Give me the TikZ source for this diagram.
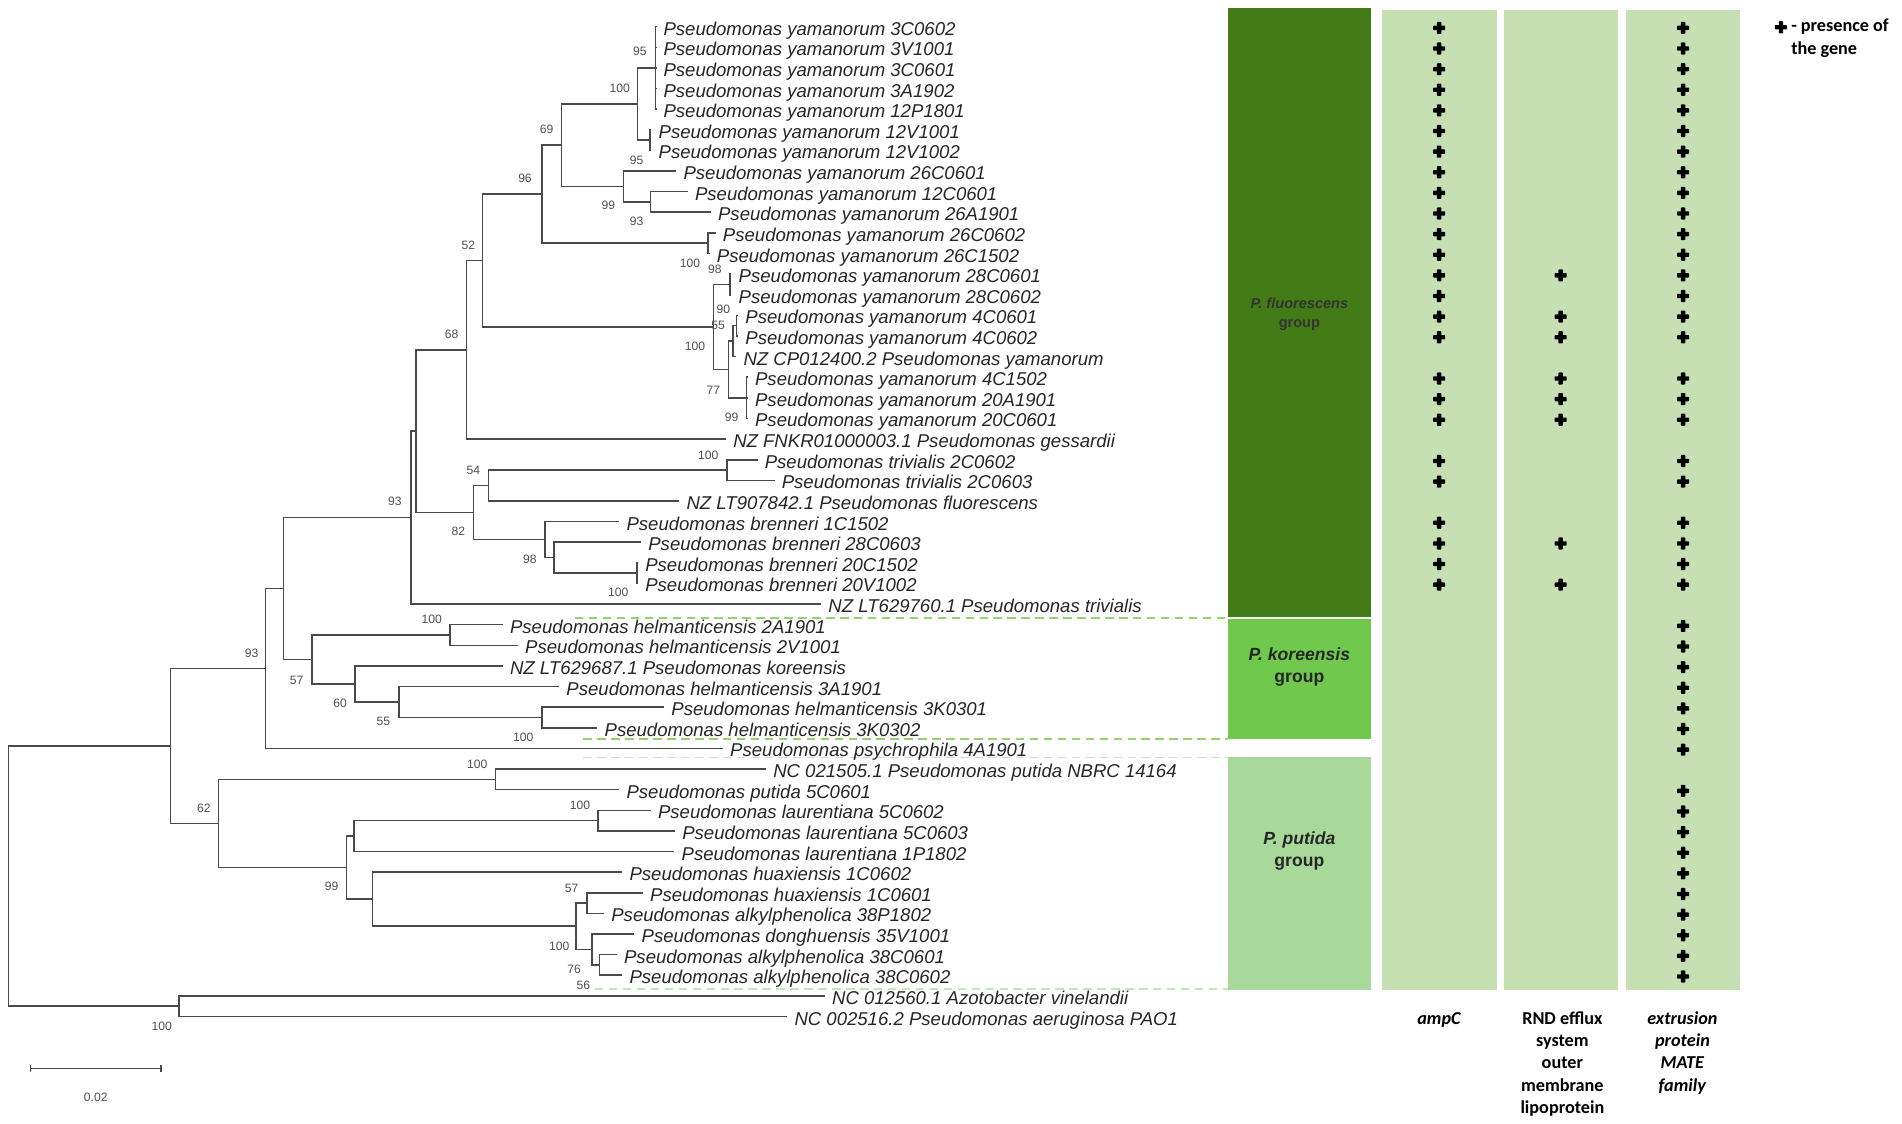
\documentclass[tikz,border=0pt]{standalone}
\usepackage{fontspec}
\setmainfont{Liberation Sans}
\newfontfamily\carlito{Carlito}
\usetikzlibrary{positioning}

\definecolor{treegray}{HTML}{4A4A4A}
\definecolor{bootgray}{HTML}{505050}
\definecolor{fluorgreen}{HTML}{437C17}
\definecolor{koreagreen}{HTML}{70C94C}
\definecolor{putidagreen}{HTML}{A8D99B}
\definecolor{genegreen}{HTML}{C6E0B4}
\definecolor{dashgreen}{HTML}{8FD46C}
\definecolor{dashpale}{HTML}{C4E5B8}

\tikzset{
  branch/.style={draw=treegray, line width=1.3pt},
  leaf/.style={anchor=west, inner sep=0pt, outer xsep=6pt,
    text height=14pt, text depth=0pt,
    font=\itshape\fontsize{15.3}{18}\selectfont, text=black!85},
  boot/.style={inner sep=0pt, font=\fontsize{10}{12}\selectfont, text=bootgray},
  groupbox/.style={draw=none, minimum width=118pt, inner sep=0pt},
  genecol/.style={draw=none, fill=genegreen, minimum height=808pt, inner sep=0pt},
  grouplabel/.style={align=center, inner sep=0pt,
    font=\bfseries\fontsize{14.5}{18}\selectfont, text=black!85},
  genelabel/.style={align=center, anchor=base, inner sep=0pt,
    font=\carlito\bfseries\fontsize{15}{18.4}\selectfont},
  groupdash/.style={line width=1.2pt, dash pattern=on 7pt off 4.5pt},
  geneplus/.pic={
    \fill[black, rounded corners=0.6pt] (-5,-1.8) rectangle (5,1.8);
    \fill[black, rounded corners=0.6pt] (-1.8,-5) rectangle (1.8,5);
  }
}

\begin{document}
\begin{tikzpicture}[x=1pt, y=-1pt]

\fill[white] (0,0) rectangle (1568,926);
\useasboundingbox (0,0) rectangle (1568,926);

% Group boxes
\node[groupbox, fill=fluorgreen, minimum height=501.5pt] (fluorbox) at (1071.2,257.65) {};
\node[groupbox, fill=koreagreen, minimum height=98.9pt] (koreabox) at (1071.2,560.05) {};
\node[groupbox, fill=putidagreen, minimum height=191.9pt] (putidabox) at (1071.2,720.25) {};

\node[grouplabel, font=\bfseries\fontsize{12}{15.7}\selectfont, text=black!80]
  (fluorlabel) at (1071.2,259.3) {\textit{P. fluorescens}\\group};
\node[grouplabel] (korealabel) at (1071.2,550) {\textit{P. koreensis}\\group};
\node[grouplabel] (putidalabel) at (1071.2,701.5) {\textit{P. putida}\\group};

% Gene columns
\node[genecol, minimum width=94.7pt] (ampcol) at (1186.35,412.2) {};
\node[genecol, minimum width=94.2pt] (rndcol) at (1286.6,412.2) {};
\node[genecol, minimum width=94.6pt] (matecol) at (1387.5,412.2) {};

% base = last line
\node[genelabel] (amplabel) at (1186.5,844.3) {\textit{ampC}};
\node[genelabel] (rndlabel) at (1288,917.9) {RND efflux\\system\\outer\\membrane\\lipoprotein};
\node[genelabel] (matelabel) at (1387,899.5) {\textit{extrusion}\\\textit{protein}\\\textit{MATE}\\\textit{family}};

% Presence of the gene
\foreach \r in {1,...,16,18,19,20,22,23,25,26,27,28}
  \pic at (1186.4,{6+17*\r}) {geneplus};
\foreach \r in {13,15,16,18,19,20,26,28}
  \pic at (1286.6,{6+17*\r}) {geneplus};
\foreach \r in {1,...,16,18,19,20,22,23,25,26,27,28,30,31,32,33,34,35,36,38,39,40,41,42,43,44,45,46,47}
  \pic at (1387.5,{6+17*\r}) {geneplus};

% Legend
\pic at (1468.2,22.5) {geneplus};
\node[anchor=base west, align=left, inner sep=0pt,
  font=\carlito\bfseries\fontsize{15}{18.4}\selectfont]
  (legendtext) at (1476.5,44.6) {- presence of\\the gene};

% Dashed group borders
\coordinate (dashA) at (474,509.5);
\coordinate (dashB) at (481,609.2);
\coordinate (dashC) at (481,624.3);
\coordinate (dashD) at (490.5,815.2);
\draw[groupdash, dashgreen] (dashA) -- (dashA -| fluorbox.west);
\draw[groupdash, dashgreen] (dashB) -- (dashB -| koreabox.west);
\draw[groupdash, dashpale] (dashC) -- (dashC -| putidabox.west);
\draw[groupdash, dashpale] (dashD) -- (dashD -| putidabox.west);

% Leaves
\node[leaf] (l1) at (541,22) {Pseudomonas yamanorum 3C0602};
\node[leaf] (l2) at (541,39) {Pseudomonas yamanorum 3V1001};
\node[leaf] (l3) at (541,56) {Pseudomonas yamanorum 3C0601};
\node[leaf] (l4) at (541,73) {Pseudomonas yamanorum 3A1902};
\node[leaf] (l5) at (541,90) {Pseudomonas yamanorum 12P1801};
\node[leaf] (l6) at (537,107) {Pseudomonas yamanorum 12V1001};
\node[leaf] (l7) at (537,124) {Pseudomonas yamanorum 12V1002};
\node[leaf] (l8) at (557.5,141) {Pseudomonas yamanorum 26C0601};
\node[leaf] (l9) at (567,158) {Pseudomonas yamanorum 12C0601};
\node[leaf] (l10) at (586,175) {Pseudomonas yamanorum 26A1901};
\node[leaf] (l11) at (590,192) {Pseudomonas yamanorum 26C0602};
\node[leaf] (l12) at (585,209) {Pseudomonas yamanorum 26C1502};
\node[leaf] (l13) at (603,226) {Pseudomonas yamanorum 28C0601};
\node[leaf] (l14) at (603,243) {Pseudomonas yamanorum 28C0602};
\node[leaf] (l15) at (608.5,260) {Pseudomonas yamanorum 4C0601};
\node[leaf] (l16) at (608.5,277) {Pseudomonas yamanorum 4C0602};
\node[leaf] (l17) at (607,294) {NZ CP012400.2 Pseudomonas yamanorum};
\node[leaf] (l18) at (616.5,311) {Pseudomonas yamanorum 4C1502};
\node[leaf] (l19) at (616.5,328) {Pseudomonas yamanorum 20A1901};
\node[leaf] (l20) at (616.5,345) {Pseudomonas yamanorum 20C0601};
\node[leaf] (l21) at (598.5,362) {NZ FNKR01000003.1 Pseudomonas gessardii};
\node[leaf] (l22) at (624.5,379) {Pseudomonas trivialis 2C0602};
\node[leaf] (l23) at (638.5,396) {Pseudomonas trivialis 2C0603};
\node[leaf] (l24) at (560,413) {NZ LT907842.1 Pseudomonas fluorescens};
\node[leaf] (l25) at (510.5,430) {Pseudomonas brenneri 1C1502};
\node[leaf] (l26) at (528.5,447) {Pseudomonas brenneri 28C0603};
\node[leaf] (l27) at (526,464) {Pseudomonas brenneri 20C1502};
\node[leaf] (l28) at (526,481) {Pseudomonas brenneri 20V1002};
\node[leaf] (l29) at (677,498) {NZ LT629760.1 Pseudomonas trivialis};
\node[leaf] (l30) at (414.5,515) {Pseudomonas helmanticensis 2A1901};
\node[leaf] (l31) at (427,532) {Pseudomonas helmanticensis 2V1001};
\node[leaf] (l32) at (414.5,549) {NZ LT629687.1 Pseudomonas koreensis};
\node[leaf] (l33) at (461,566) {Pseudomonas helmanticensis 3A1901};
\node[leaf] (l34) at (547.5,583) {Pseudomonas helmanticensis 3K0301};
\node[leaf] (l35) at (492.5,600) {Pseudomonas helmanticensis 3K0302};
\node[leaf] (l36) at (596,617) {Pseudomonas psychrophila 4A1901};
\node[leaf] (l37) at (631.5,634) {NC 021505.1 Pseudomonas putida NBRC 14164};
\node[leaf] (l38) at (510.5,651) {Pseudomonas putida 5C0601};
\node[leaf] (l39) at (536.5,668) {Pseudomonas laurentiana 5C0602};
\node[leaf] (l40) at (556.5,685) {Pseudomonas laurentiana 5C0603};
\node[leaf] (l41) at (556,702) {Pseudomonas laurentiana 1P1802};
\node[leaf] (l42) at (513,719) {Pseudomonas huaxiensis 1C0602};
\node[leaf] (l43) at (530,736) {Pseudomonas huaxiensis 1C0601};
\node[leaf] (l44) at (498,753) {Pseudomonas alkylphenolica 38P1802};
\node[leaf] (l45) at (523,770) {Pseudomonas donghuensis 35V1001};
\node[leaf] (l46) at (508.5,787) {Pseudomonas alkylphenolica 38C0601};
\node[leaf] (l47) at (513,804) {Pseudomonas alkylphenolica 38C0602};
\node[leaf] (l48) at (680,821) {NC 012560.1 Azotobacter vinelandii};
\node[leaf] (l49) at (649,838) {NC 002516.2 Pseudomonas aeruginosa PAO1};

% Internal nodes
% yamanorum
\coordinate (a1) at (540.5,56);
\coordinate (a2) at (535.9,115.5);
\coordinate (n100a) at (525.4,85.75);
\coordinate (b2) at (536.4,166.5);
\coordinate (n95b) at (513.9,153.75);
\coordinate (n69) at (463,119.75);
\coordinate (c1) at (583.9,200.5);
\coordinate (n96) at (446.6,160.1);
\coordinate (d1) at (601.8,234.5);
\coordinate (d2) at (607.3,268.5);
\coordinate (d3) at (604.3,281.25);
\coordinate (d4) at (615.5,328);
\coordinate (n77) at (600.4,304.6);
\coordinate (n100d) at (588.1,269.55);
\coordinate (n52) at (397.9,214.8);
\coordinate (n68) at (384.7,288.4);
% trivialis, brenneri
\coordinate (e1) at (599.1,387.5);
\coordinate (n54) at (402.6,400.25);
\coordinate (f1) at (524.9,472.5);
\coordinate (f2) at (456.7,459.75);
\coordinate (n98) at (449.3,444.9);
\coordinate (n82) at (390.2,422.6);
\coordinate (nX) at (343,355.5);
\coordinate (nY) at (338.6,426.75);
% koreensis
\coordinate (g1) at (371,523.5);
\coordinate (g3) at (446.6,591.5);
\coordinate (n55) at (328.9,578.75);
\coordinate (n60) at (292.7,563.9);
\coordinate (n57) at (257,543.7);
\coordinate (nZ) at (233.6,485.2);
\coordinate (nW) at (219,551.1);
% putida
\coordinate (h1) at (408.6,642.5);
\coordinate (h2) at (493.2,676.5);
\coordinate (h3) at (292,689.25);
\coordinate (i1) at (483.7,744.5);
\coordinate (i3) at (494.1,795.5);
\coordinate (i2) at (487.8,782.75);
\coordinate (i4) at (474.9,763.6);
\coordinate (h4) at (307.2,741.3);
\coordinate (n99) at (285.8,715.3);
\coordinate (n62) at (180,678.9);
% root
\coordinate (nR) at (140.7,615);
\coordinate (j1) at (147.6,829.5);
\coordinate (root) at (6.9,722);

% Branches
\foreach \p/\c in {a1/l1,a1/l2,a1/l3,a1/l4,a1/l5,a2/l6,a2/l7,n95b/l8,b2/l9,b2/l10,
    c1/l11,c1/l12,d1/l13,d1/l14,d2/l15,d2/l16,d3/l17,d4/l18,d4/l19,d4/l20,n68/l21,
    e1/l22,e1/l23,n54/l24,n98/l25,f2/l26,f1/l27,f1/l28,nY/l29,g1/l30,g1/l31,n60/l32,
    n55/l33,g3/l34,g3/l35,nW/l36,h1/l37,h1/l38,h2/l39,h2/l40,h3/l41,h4/l42,i1/l43,
    i1/l44,i2/l45,i3/l46,i3/l47,j1/l48,j1/l49}
  \draw[branch] (\p) |- (\c.west);
\foreach \p/\c in {n100a/a1,n100a/a2,n95b/b2,n69/n100a,n69/n95b,n96/n69,n96/c1,
    d3/d2,n77/d3,n77/d4,n100d/d1,n100d/n77,n52/n96,n52/n100d,n68/n52,n54/e1,f2/f1,
    n98/f2,n82/n54,n82/n98,nX/n68,nX/n82,nY/nX,n55/g3,n60/n55,n57/g1,n57/n60,
    nZ/nY,nZ/n57,nW/nZ,h3/h2,i2/i3,i4/i1,i4/i2,h4/i4,n99/h3,n99/h4,n62/h1,n62/n99,
    nR/nW,nR/n62,root/nR,root/j1}
  \draw[branch] (\p) |- (\c);

% Bootstrap values
\foreach \x/\y/\t [count=\k] in {527.6/42.6/95, 511/72.8/100, 450.7/106.6/69,
    524.9/132.4/95, 501.5/169.6/99, 524.9/182.7/93, 432.8/147/96, 386.1/202/52,
    568.8/217/100, 589.4/222/98, 596.3/255/90, 592/268/55, 372.3/275.3/68,
    573/285.8/100, 588/321.6/77, 603.2/343.9/99, 583.9/375.1/100, 390.2/387.5/54,
    377.8/438.3/82, 325.6/413.6/93, 436.9/461.1/98, 509.7/488.6/100,
    355.9/510.6/100, 207.5/538.6/93, 244.6/560.6/57, 280.3/579.8/60, 316/594.9/55,
    431.4/607.8/100, 393.5/630.1/100, 168/666/62, 478.2/663.6/100, 273.4/731/99,
    471.3/732.3/57, 461.1/780.4/100, 473.2/799.1/76, 480.9/812/56, 133.3/846.4/100}
  \node[boot] (bs\k) at (\x,\y) {\t};

% Scale bar
\coordinate (barleft) at (25.3,880.7);
\coordinate (barright) at (132.7,880.7);
\draw[branch] (barleft) -- (barright);
\draw[branch] ([yshift=-3pt]barleft) -- ([yshift=3pt]barleft);
\draw[branch] ([yshift=-3pt]barright) -- ([yshift=3pt]barright);
\node[boot] (barlabel) at (78.9,904.5) {0.02};

\end{tikzpicture}
\end{document}
